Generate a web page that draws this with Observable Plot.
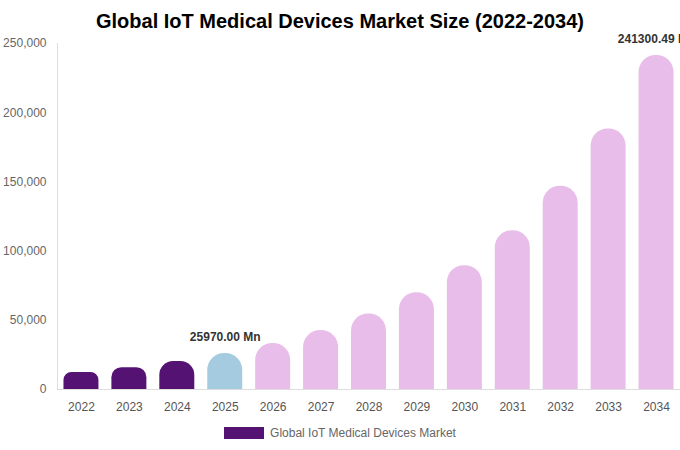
<!DOCTYPE html>
<html>
<head>
<meta charset="utf-8">
<script src="https://cdn.jsdelivr.net/npm/d3@7"></script>
<script src="https://cdn.jsdelivr.net/npm/@observablehq/plot@0.6"></script>
<style>
  html, body { margin: 0; padding: 0; background: #fff; }
  body { width: 680px; height: 450px; position: relative; overflow: hidden; font-family: "Liberation Sans", Arial, sans-serif; }
  #title { position: absolute; top: 8px; left: 0; width: 680px; text-align: center; font-weight: bold; font-size: 20px; color: #000; line-height: 26px; }
  #chart { position: absolute; top: 0; left: 0; }
  #legend { position: absolute; top: 426px; left: 0; width: 680px; display: flex; justify-content: center; align-items: center; font-size: 12px; color: #666; }
  #legend .sw { width: 40px; height: 12px; margin-right: 6px; display: inline-block; }
</style>
</head>
<body>
<div id="chart"></div>
<div id="title">Global IoT Medical Devices Market Size (2022-2034)</div>
<div id="legend"></div>
<script>
const years = ["2022","2023","2024","2025","2026","2027","2028","2029","2030","2031","2032","2033","2034"];
const values = [12300, 15800, 20250, 25970, 33250, 42600, 54550, 69900, 89500, 114700, 146900, 188200, 241300.49];
const barColors = ["#541272","#541272","#541272","#a4cbe0","#e8bde9","#e8bde9","#e8bde9","#e8bde9","#e8bde9","#e8bde9","#e8bde9","#e8bde9","#e8bde9"];
const labelYears = ["2025", "2034"];
const labelTexts = ["25970.00 Mn", "241300.49 Mn"];
const yTicks = [0, 50000, 100000, 150000, 200000, 250000];
const seriesName = "Global IoT Medical Devices Market";
const legendColor = "#541272";

const W = 680, H = 420, MT = 43, MB = 31, ML = 57, MR = 0;
const yMax = 250000;
const maxRadius = 17;
const plotH = H - MT - MB;

const data = years.map((y, i) => ({year: y, value: values[i], color: barColors[i]}));
const labels = labelYears.map((y, i) => ({year: y, value: values[years.indexOf(y)], text: labelTexts[i]}));

// corner radius = min(maxRadius, half bar height), like the source chart
const radiusOf = d => Math.min(maxRadius, Math.floor(d.value / yMax * plotH / 2));
const radii = Array.from(new Set(data.map(radiusOf)));
const barMarks = radii.map(r => Plot.barY(data.filter(d => radiusOf(d) === r), {x: "year", y: "value", fill: "color", ry1: r}));

const chart = Plot.plot({
  width: W,
  height: H,
  marginTop: MT,
  marginBottom: MB,
  marginLeft: ML,
  marginRight: MR,
  style: {fontFamily: "'Liberation Sans', Arial, sans-serif", fontSize: "12px", overflow: "visible"},
  x: {domain: years, paddingInner: 0.27, paddingOuter: 0.135, round: false, label: null},
  y: {domain: [0, yMax], label: null},
  marks: [
    Plot.frame({anchor: "left", stroke: "#ddd"}),
    ...barMarks,
    Plot.ruleY([0], {stroke: "#ddd"}),
    Plot.axisY({ticks: yTicks, tickSize: 0, tickPadding: 11, tickFormat: d3.format(","), fill: "#666", fontSize: 12, label: null}),
    Plot.axisX({tickSize: 0, tickPadding: 13, fill: "#555", fontSize: 12, label: null}),
    Plot.text(labels, {x: "year", y: "value", text: "text", dy: -16, fontWeight: "bold", fontSize: 12, fill: "#333"})
  ]
});
document.getElementById("chart").appendChild(chart);

const legend = document.getElementById("legend");
const sw = document.createElement("span");
sw.className = "sw";
sw.style.background = legendColor;
legend.appendChild(sw);
const lt = document.createElement("span");
lt.textContent = seriesName;
legend.appendChild(lt);
</script>
</body>
</html>
